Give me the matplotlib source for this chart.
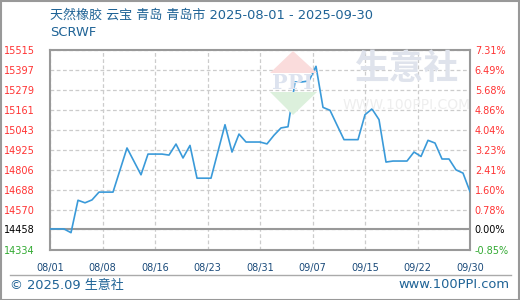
import numpy as np
import matplotlib.pyplot as plt
from matplotlib.patches import Polygon, Rectangle

plt.rcParams['font.family'] = ['DejaVu Sans', 'Noto Sans CJK SC']

title = "天然橡胶 云宝 青岛 青岛市 2025-08-01 - 2025-09-30"
subtitle = "SCRWF"
base_price = 14458

# daily prices, 08/01 .. 09/30
prices = [
    14458, 14458, 14458, 14436, 14627, 14612, 14629, 14675, 14675, 14675,
    14805, 14935, 14856, 14777, 14899, 14899, 14899, 14893, 14958, 14876,
    14950, 14757, 14757, 14757, 14915, 15072, 14911, 15017, 14970, 14970,
    14970, 14959, 15010, 15053, 15060, 15324, 15324, 15330, 15416, 15174,
    15157, 15070, 14984, 14984, 14984, 15131, 15165, 15102, 14852, 14858,
    14858, 14858, 14911, 14885, 14980, 14964, 14870, 14870, 14806, 14787,
    14678,
]
x_labels = ["08/01", "08/08", "08/16", "08/23", "08/31", "09/07", "09/15", "09/22", "09/30"]
y_ticks = [14334, 14458, 14570, 14688, 14806, 14925, 15043, 15161, 15279, 15397, 15515]
pct_labels = ["-0.85%", "0.00%", "0.78%", "1.60%", "2.41%", "3.23%", "4.04%",
              "4.86%", "5.68%", "6.49%", "7.31%"]

W, H = 520, 300
BLUE = "#1f6396"
RED = "#ff3333"
GREEN = "#33aa33"


def px(x, y):
    # pixel position (from top-left) -> figure fraction
    return x / W, 1 - y / H


fig = plt.figure(figsize=(W / 100, H / 100), dpi=100)
ax = fig.add_axes([50 / W, 50 / H, 420 / W, 200.5 / H])

days = np.arange(len(prices))
ax.plot(days, prices, color="#3a9ad9", lw=1.2, zorder=3)
ax.axhline(base_price, color="#999999", lw=1.5, zorder=2)

ax.set_xlim(0, len(prices) - 1)
ax.set_ylim(y_ticks[0], y_ticks[-1])
ax.set_xticks(np.linspace(0, len(prices) - 1, len(x_labels)))
ax.set_xticklabels(x_labels, fontsize=7, color="#1a4a7a")
ax.set_yticks(y_ticks)
ax.set_yticklabels([str(v) for v in y_ticks], fontsize=7)
ax.tick_params(axis="both", length=0)
ax.tick_params(axis="y", pad=11)
ax.tick_params(axis="x", pad=9)
ax.grid(True, ls=(0, (3, 2)), color="#cccccc", lw=0.9)
for s in ax.spines.values():
    s.set_color("#999999")
    s.set_linewidth(1.5)

ax2 = ax.twinx()
ax2.set_ylim(ax.get_ylim())
ax2.set_yticks(y_ticks)
ax2.set_yticklabels(pct_labels, fontsize=7)
ax2.tick_params(axis="y", length=0, pad=3.5)
for s in ax2.spines.values():
    s.set_visible(False)

for a in (ax, ax2):
    for lab, v in zip(a.get_yticklabels(), y_ticks):
        if v > base_price:
            lab.set_color(RED)
        elif v < base_price:
            lab.set_color(GREEN)
        else:
            lab.set_color("black")

# watermark
fig.patches.append(Polygon([px(270, 73), px(293, 51), px(317, 73)], closed=True,
                           transform=fig.transFigure, fc="#fadcdc", ec="none", zorder=0.5))
fig.patches.append(Polygon([px(270, 92), px(317, 92), px(293, 115)], closed=True,
                           transform=fig.transFigure, fc="#dcf0dc", ec="none", zorder=0.5))
fig.text(*px(293, 83), "PPI", fontsize=15, fontweight="bold", family="DejaVu Serif",
         color="#dde3ef", ha="center", va="center", zorder=0.5)
fig.text(*px(407, 68), "生意社", fontsize=25, fontweight="bold", color="#dfe3ec",
         family="Noto Sans CJK SC", ha="center", va="center", zorder=0.5)
fig.text(*px(407, 105), "WWW.100PPI.COM", fontsize=10, color="#eeeeee",
         ha="center", va="center", zorder=0.5)

# titles
fig.text(*px(50, 15), title, fontsize=9.4, color=BLUE, va="center", ha="left")
fig.text(*px(50, 33), subtitle, fontsize=9.4, color=BLUE, va="center", ha="left")

# footer
fig.add_artist(plt.Line2D([10 / W, 511 / W], [1 - 275 / H] * 2, transform=fig.transFigure,
                          color="#aaaaaa", lw=1))
fig.text(*px(10, 285), "© 2025.09 生意社", fontsize=9.4, color=BLUE, va="center", ha="left")
fig.text(*px(510, 285), "www.100PPI.com", fontsize=9.4, color=BLUE, va="center", ha="right")
fig.patches.append(Rectangle((0.5 / W, 0.5 / H), (W - 1.5) / W, (H - 1.5) / H,
                             transform=fig.transFigure, fill=False, ec="#999999", lw=1.5))

fig.savefig("out.png", dpi=100)
